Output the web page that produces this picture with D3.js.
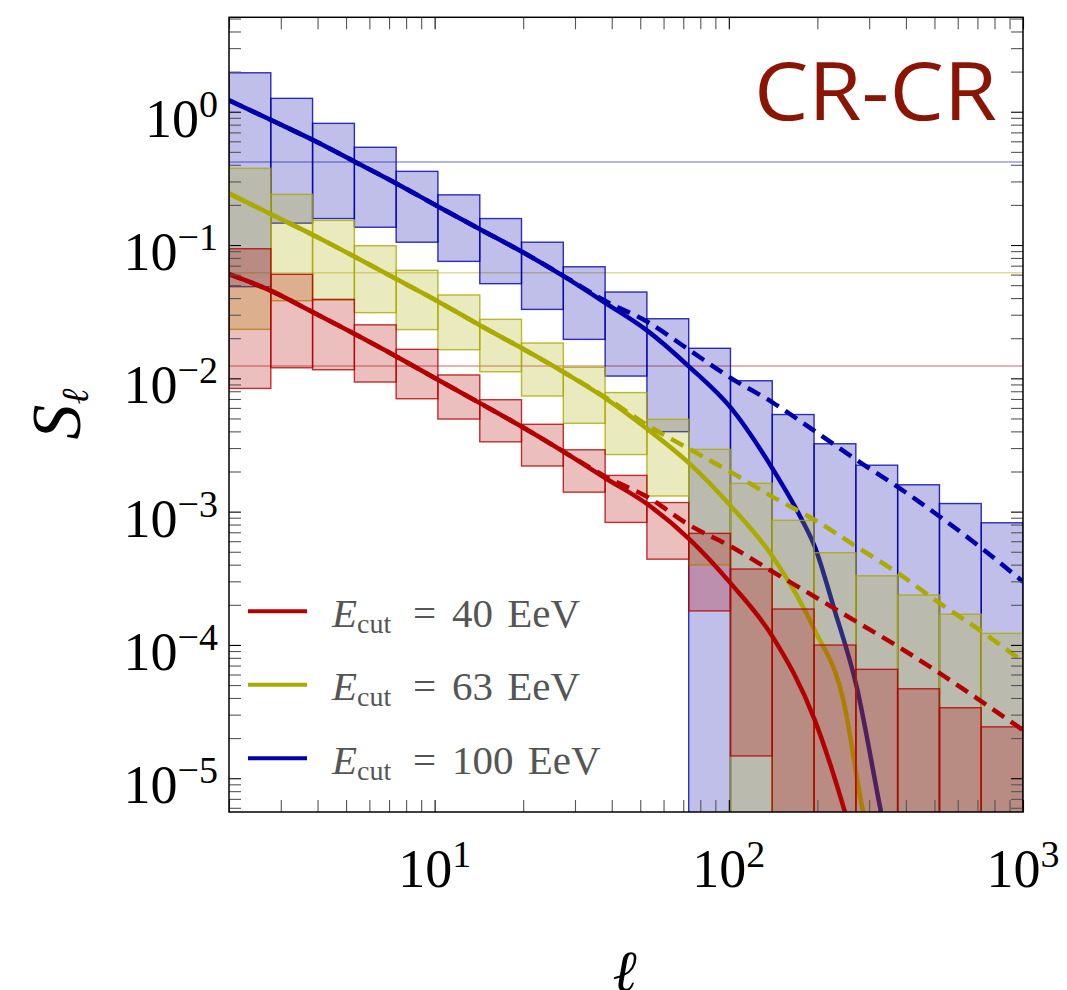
<!DOCTYPE html>
<html>
<head>
<meta charset="utf-8">
<script src="https://cdn.jsdelivr.net/npm/d3@7"></script>
<style>
    html, body {
        margin: 0;
        padding: 0;
        background: white;
        overflow: hidden;
    }
    svg { display: block; }
    text { font-family: 'Liberation Serif', 'DejaVu Serif', serif; }
</style>
</head>
<body>
<svg width="1067" height="990"></svg>
<script>
// multipole bins (log-spaced, l = 2 .. 1000)
var binEdges = [2, 2.774, 3.847, 5.336, 7.40, 10.26, 14.24, 19.74, 27.38, 37.98, 52.67,
    73.06, 101.3, 140.5, 194.9, 270.3, 374.9, 520.0, 721.2, 1000];

var seriesNames = ['40 EeV', '63 EeV', '100 EeV'];

// band per bin: upper / lower edge (0 = reaches the bottom of the frame)
var redHi = [0.0938, 0.0603, 0.0391, 0.0252, 0.0165, 0.0106, 0.00691, 0.00452, 0.00291, 0.00187,
    0.00117, 0.000687, 0.000371, 0.000186, 0.0000998, 0.0000656, 0.0000469, 0.0000338, 0.0000243];
var redLo = [0.0084, 0.0120, 0.0116, 0.00938, 0.00703, 0.00495, 0.00334, 0.0022, 0.0014, 0.00083,
    0.00044, 0.00018, 0.0000147, 0, 0, 0, 0, 0, 0];
var yellowHi = [0.376, 0.240, 0.153, 0.0988, 0.0646, 0.0422, 0.0277, 0.0184, 0.0121, 0.00782,
    0.00492, 0.00293, 0.00163, 0.00086, 0.000492, 0.00033, 0.000237, 0.00017, 0.000122];
var yellowLo = [0.0233, 0.0382, 0.0387, 0.0311, 0.0232, 0.0164, 0.0112, 0.00737, 0.0046, 0.00268,
    0.00131, 0.000398, 0, 0, 0, 0, 0, 0, 0];
var blueHi = [1.96, 1.26, 0.818, 0.541, 0.357, 0.238, 0.158, 0.105, 0.0687, 0.0444,
    0.0280, 0.0168, 0.00959, 0.00535, 0.00323, 0.00223, 0.00159, 0.00115, 0.000825];
var blueLo = [0.0487, 0.146, 0.158, 0.136, 0.105, 0.0754, 0.0513, 0.0329, 0.0196, 0.0104,
    0.00398, 0, 0, 0, 0, 0, 0, 0, 0];

// thin horizontal levels
var noiseLevels = [0.0124, 0.062, 0.42];

// model curves (solid) and power-law curves (dashed)
var redSolidL = [2, 2.78, 3.86, 5.35, 7.41, 10.3, 14.3, 19.8, 27.5, 38.1, 52.8, 73.4, 102, 141, 196, 248, 260];
var redSolidS = [0.0604, 0.0453, 0.0313, 0.0215, 0.0146, 0.00971, 0.00649, 0.00433, 0.00281, 0.00178,
    0.00114, 0.000623, 0.000286, 0.000115, 0.0000273, 0.0000056, 0.0000039];
var redDashL = [2, 2.78, 3.86, 5.35, 7.41, 10.3, 14.3, 19.8, 27.5, 38.1, 52.8, 73.4, 102, 141, 196, 272, 377, 522, 724, 1000];
var redDashS = [0.0604, 0.0453, 0.0313, 0.0215, 0.0146, 0.00971, 0.00649, 0.00433, 0.00281, 0.00183,
    0.00129, 0.000793, 0.000545, 0.000354, 0.00023, 0.000149, 0.0000969, 0.0000612, 0.0000375, 0.000023];

var yellowSolidL = [2, 2.78, 3.86, 5.35, 7.41, 10.3, 14.3, 19.8, 27.5, 38.1, 52.8, 73.4, 102, 141, 196, 245, 286, 297];
var yellowSolidS = [0.244, 0.170, 0.119, 0.0817, 0.0556, 0.0376, 0.0249, 0.0168, 0.0111, 0.00708,
    0.00417, 0.0023, 0.00109, 0.000459, 0.000129, 0.0000386, 0.0000056, 0.0000038];
var yellowDashL = [2, 2.78, 3.86, 5.35, 7.41, 10.3, 14.3, 19.8, 27.5, 38.1, 52.8, 73.4, 102, 141, 196, 272, 377, 522, 724, 1000];
var yellowDashS = [0.244, 0.170, 0.119, 0.0817, 0.0556, 0.0376, 0.0249, 0.0168, 0.0111, 0.0072,
    0.00446, 0.00295, 0.00197, 0.00129, 0.000865, 0.000545, 0.000344, 0.000205, 0.000126, 0.0000748];

var blueSolidL = [2, 2.78, 3.86, 5.35, 7.41, 10.3, 14.3, 19.8, 27.5, 38.1, 52.8, 73.4, 102, 141, 175, 196, 227, 272, 329, 340];
var blueSolidS = [1.22, 0.866, 0.613, 0.422, 0.290, 0.194, 0.131, 0.0891, 0.0582, 0.0367,
    0.0228, 0.0122, 0.00595, 0.00209, 0.000916, 0.000545, 0.000193, 0.0000486, 0.0000056, 0.0000039];
var blueDashL = [2, 2.78, 3.86, 5.35, 7.41, 10.3, 14.3, 19.8, 27.5, 38.1, 52.8, 73.4, 102, 141, 196, 272, 377, 522, 724, 1000];
var blueDashS = [1.22, 0.866, 0.613, 0.422, 0.290, 0.194, 0.131, 0.0891, 0.0585, 0.0380,
    0.0266, 0.0163, 0.0100, 0.00658, 0.00402, 0.00244, 0.00152, 0.000916, 0.000531, 0.000298];

// tick labels (powers of ten)
var xTickExps = [1, 2, 3];
var yTickExps = [0, -1, -2, -3, -4, -5];

var colors = ['#b30000', '#aaaa00', '#0000aa'];

var series = [
    {name: seriesNames[0], color: colors[0], hi: redHi, lo: redLo, level: noiseLevels[0],
        solid: d3.zip(redSolidL, redSolidS), dash: d3.zip(redDashL, redDashS)},
    {name: seriesNames[1], color: colors[1], hi: yellowHi, lo: yellowLo, level: noiseLevels[1],
        solid: d3.zip(yellowSolidL, yellowSolidS), dash: d3.zip(yellowDashL, yellowDashS)},
    {name: seriesNames[2], color: colors[2], hi: blueHi, lo: blueLo, level: noiseLevels[2],
        solid: d3.zip(blueSolidL, blueSolidS), dash: d3.zip(blueDashL, blueDashS)}
];

// frame (note: "top" is a reserved window property, so prefixed names)
var frameL = 229, frameR = 1023, frameT = 17.3, frameB = 812;

var svg = d3.select('svg');

var x = d3.scaleLog().domain([2, 1000]).range([frameL, frameR]);
var y = d3.scaleLog().domain([5.58e-6, 5.11]).range([frameB, frameT]);

svg.append('defs').append('clipPath').attr('id', 'plot')
    .append('rect')
    .attr('x', frameL).attr('y', frameT)
    .attr('width', frameR - frameL).attr('height', frameB - frameT);

var plot = svg.append('g').attr('clip-path', 'url(#plot)');

var line = d3.line()
    .x(function (d) { return x(d[0]); })
    .y(function (d) { return y(d[1]); })
    .curve(d3.curveMonotoneX);

// horizontal levels
plot.selectAll('line.level')
    .data(series)
    .enter().append('line')
    .attr('class', 'level')
    .attr('x1', frameL).attr('x2', frameR)
    .attr('y1', function (d) { return y(d.level); })
    .attr('y2', function (d) { return y(d.level); })
    .attr('stroke', function (d) { return d.color; })
    .attr('stroke-opacity', 0.4)
    .attr('stroke-width', 1.5);

// blue first: each band covers the curves of the series drawn before it
series.slice().reverse().forEach(function (s) {
    var g = plot.append('g');
    g.selectAll('rect')
        .data(s.hi)
        .enter().append('rect')
        .attr('x', function (d, i) { return x(binEdges[i]); })
        .attr('width', function (d, i) { return x(binEdges[i + 1]) - x(binEdges[i]); })
        .attr('y', function (d) { return y(d); })
        .attr('height', function (d, i) {
            var yb = s.lo[i] > 0 ? y(s.lo[i]) : frameB + 2;
            return yb - y(d);
        })
        .attr('fill', s.color)
        .attr('fill-opacity', 0.25)
        .attr('stroke', s.color)
        .attr('stroke-opacity', 0.8)
        .attr('stroke-width', 1.4);

    g.append('path')
        .attr('d', line(s.dash))
        .attr('fill', 'none')
        .attr('stroke', s.color)
        .attr('stroke-width', 4.5)
        .attr('stroke-dasharray', '14,8');
    g.append('path')
        .attr('d', line(s.solid))
        .attr('fill', 'none')
        .attr('stroke', s.color)
        .attr('stroke-width', 4.5);
});

// axes: inward ticks on all four sides
function styleTicks (g) {
    g.select('.domain').remove();
    g.selectAll('.tick line')
        .attr('stroke', function (d) {
            return Math.abs(Math.log10(d) - Math.round(Math.log10(d))) < 1e-6 ? '#000' : '#555';
        })
        .attr('stroke-width', 1.1);
}

svg.append('g').attr('transform', 'translate(0,' + frameB + ')')
    .call(d3.axisBottom(x).tickSize(-12).tickFormat('')).call(styleTicks);
svg.append('g').attr('transform', 'translate(0,' + frameT + ')')
    .call(d3.axisTop(x).tickSize(-12).tickFormat('')).call(styleTicks);
svg.append('g').attr('transform', 'translate(' + frameL + ',0)')
    .call(d3.axisLeft(y).tickSize(-12).tickFormat('')).call(styleTicks);
svg.append('g').attr('transform', 'translate(' + frameR + ',0)')
    .call(d3.axisRight(y).tickSize(-12).tickFormat('')).call(styleTicks);

svg.append('rect')
    .attr('x', frameL).attr('y', frameT)
    .attr('width', frameR - frameL).attr('height', frameB - frameT)
    .attr('fill', 'none')
    .attr('stroke', '#000')
    .attr('stroke-width', 1.5);

function powerLabel (t, e) {
    t.append('tspan').text('10');
    t.append('tspan')
        .attr('font-size', 38)
        .attr('dy', -20)
        .text(e < 0 ? '\u2212' + (-e) : String(e));
}

svg.append('g').selectAll('text')
    .data(xTickExps)
    .enter().append('text')
    .attr('x', function (e) { return x(Math.pow(10, e)); })
    .attr('y', 887)
    .attr('text-anchor', 'middle')
    .attr('font-size', 54)
    .attr('fill', '#000')
    .each(function (e) { powerLabel(d3.select(this), e); });

svg.append('g').selectAll('text')
    .data(yTickExps)
    .enter().append('text')
    .attr('x', 218)
    .attr('y', function (e) { return y(Math.pow(10, e)) + 25; })
    .attr('text-anchor', 'end')
    .attr('font-size', 54)
    .attr('fill', '#000')
    .each(function (e) { powerLabel(d3.select(this), e); });

// axis titles
var ylab = svg.append('text')
    .attr('transform', 'translate(80,414) rotate(-90)')
    .attr('text-anchor', 'middle')
    .attr('font-size', 70)
    .style('font-style', 'italic');
ylab.append('tspan').text('S');
ylab.append('tspan').attr('font-size', 38).attr('dy', 8).text('\u2113');

svg.append('text')
    .attr('x', (frameL + frameR) / 2)
    .attr('y', 991)
    .attr('text-anchor', 'middle')
    .attr('font-size', 58)
    .attr('font-weight', 'bold')
    .style('font-style', 'italic')
    .text('\u2113');

// panel tag
svg.append('text')
    .attr('x', 997)
    .attr('y', 120)
    .attr('text-anchor', 'end')
    .attr('font-size', 80)
    .attr('textLength', 243)
    .attr('lengthAdjust', 'spacingAndGlyphs')
    .style('font-family', "'Open Sans', 'Lato', sans-serif")
    .attr('fill', '#8a1505')
    .text('CR-CR');

// legend
var legend = svg.append('g').selectAll('g')
    .data(series)
    .enter().append('g')
    .attr('transform', function (d, i) { return 'translate(0,' + (611.3 + i * 73.5) + ')'; });

legend.append('line')
    .attr('x1', 248).attr('x2', 307)
    .attr('stroke', function (d) { return d.color; })
    .attr('stroke-width', 4);

var lt = legend.append('text')
    .attr('x', 332)
    .attr('y', 15.5)
    .attr('font-size', 41)
    .attr('fill', '#555');
lt.append('tspan').style('font-style', 'italic').text('E');
lt.append('tspan').attr('font-size', 28).attr('dy', 6).text('cut');

legend.append('text')
    .attr('x', 413).attr('y', 15.5)
    .attr('font-size', 41).attr('fill', '#555')
    .text('=');

legend.append('text')
    .attr('x', 452).attr('y', 15.5)
    .attr('font-size', 41).attr('fill', '#555')
    .style('word-spacing', '4px')
    .text(function (d) { return d.name; });
</script>
</body>
</html>
